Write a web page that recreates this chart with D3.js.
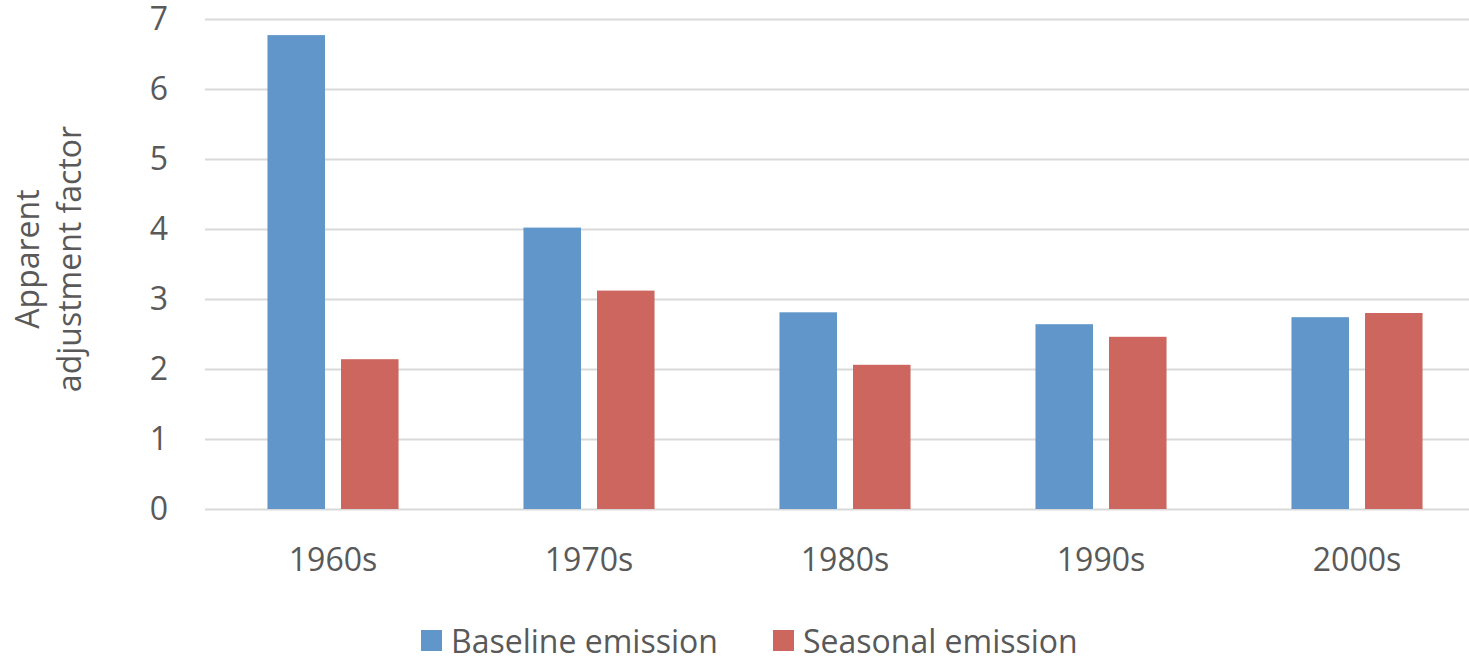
<!DOCTYPE html>
<html><head><meta charset="utf-8">
<script src="https://cdn.jsdelivr.net/npm/d3@7"></script>
<style>body{margin:0;background:#fff;} svg{display:block;}</style>
</head><body>
<svg id="chart" width="1469" height="659"></svg>
<script>
const categories = ["1960s","1970s","1980s","1990s","2000s"];
const seriesNames = ["Baseline emission","Seasonal emission"];
const baseline = [6.77, 4.02, 2.81, 2.64, 2.74];
const seasonal = [2.14, 3.12, 2.06, 2.46, 2.80];
const yTicks = [0,1,2,3,4,5,6,7];
const colors = ["#6096c9","#cd665f"];
const yTitle = ["Apparent","adjustment factor"];

(function(){
const svg = d3.select("#chart");
const font = "'Open Sans', sans-serif";
const textColor = "#595959";
const fs = "32px";
const mLeft = 205, mRight = 1485, mTop = 19, mBottom = 509;

const x0 = d3.scaleBand().domain(categories).range([mLeft, mRight]).paddingInner(0.488).paddingOuter(0.244);
const x1 = d3.scaleBand().domain(seriesNames).range([0, x0.bandwidth()]).paddingInner(0.218);
const y = d3.scaleLinear().domain([0,7]).range([mBottom, mTop]);

const yAxis = d3.axisLeft(y).tickValues(yTicks).tickSize(-(mRight-mLeft)).tickPadding(37).tickFormat(d3.format("d"));
const gy = svg.append("g").attr("transform", `translate(${mLeft},0)`).call(yAxis);
gy.select(".domain").remove();
gy.selectAll(".tick line").attr("stroke", "#d9d9d9").attr("stroke-width", 2);
gy.selectAll(".tick text").attr("fill", textColor).style("font-family", font).style("font-size", fs);

const data = categories.map((c,i) => ({cat:c, vals:[baseline[i], seasonal[i]]}));
const groups = svg.append("g").selectAll("g").data(data).join("g")
  .attr("transform", d => `translate(${x0(d.cat)},0)`);
groups.selectAll("rect").data(d => d.vals.map((v,j)=>({s:seriesNames[j], v, j})))
  .join("rect")
  .attr("x", d => x1(d.s))
  .attr("width", x1.bandwidth())
  .attr("y", d => y(d.v))
  .attr("height", d => y(0) - y(d.v))
  .attr("fill", d => colors[d.j]);

const xAxis = d3.axisBottom(x0).tickSize(0).tickPadding(0);
const gx = svg.append("g").attr("transform", `translate(0,${mBottom})`).call(xAxis);
gx.select(".domain").remove();
gx.selectAll(".tick text").attr("fill", textColor).style("font-family", font).style("font-size", fs)
  .attr("dy", null).attr("y", 62);

const yt = svg.append("text").attr("transform", "translate(0,259) rotate(-90)")
  .attr("text-anchor","middle").attr("fill", textColor).style("font-family", font).style("font-size",fs);
yt.selectAll("tspan").data(yTitle).join("tspan").attr("x",0).attr("y",(d,i)=> 39 + i*42).text(d=>d);

const legendX = [421, 773];
const lg = svg.append("g").selectAll("g").data(seriesNames).join("g")
  .attr("transform", (d,i)=>`translate(${legendX[i]},630)`);
lg.append("rect").attr("width",21).attr("height",21).attr("fill",(d,i)=>colors[i]);
lg.append("text").attr("x",30).attr("y",23).attr("fill",textColor).style("font-family",font).style("font-size",fs).text(d=>d);
})();
</script>
</body></html>
